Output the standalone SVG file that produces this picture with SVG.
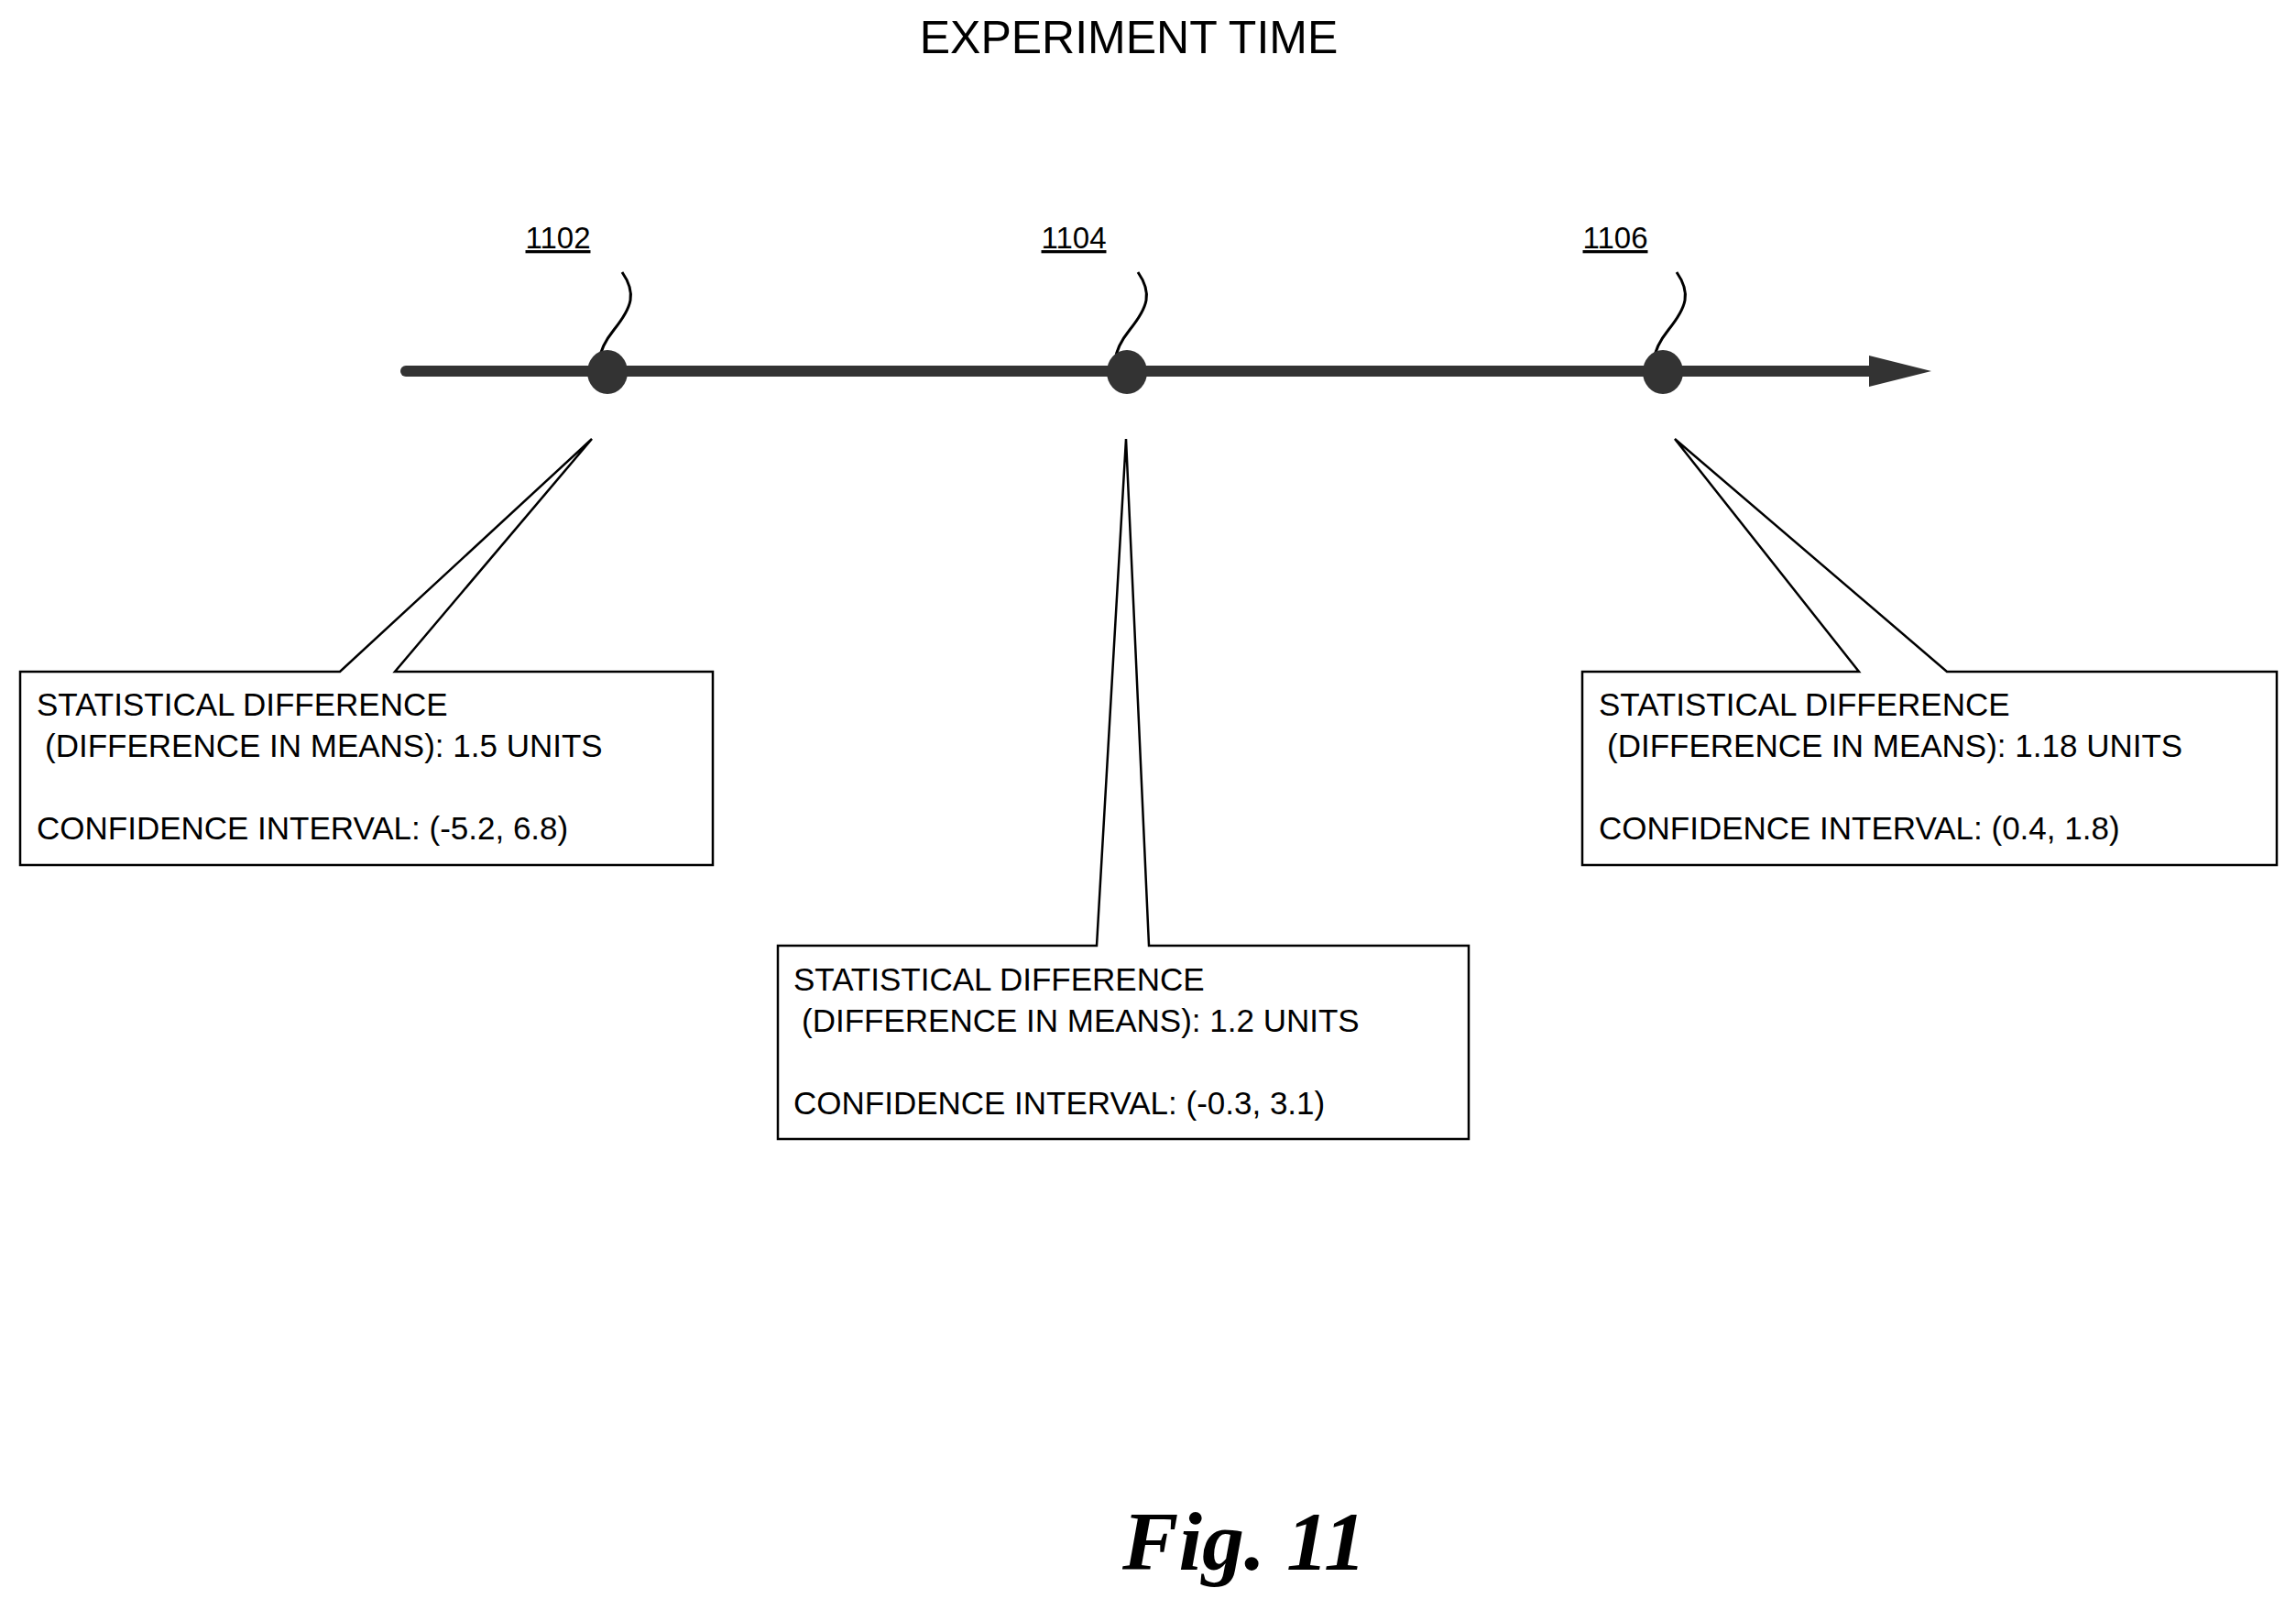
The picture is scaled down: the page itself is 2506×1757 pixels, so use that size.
<svg xmlns="http://www.w3.org/2000/svg" width="2506" height="1757" viewBox="0 0 2506 1757">
<style>
.t{font-family:"Liberation Sans",Arial,sans-serif;font-size:35px;fill:#000}
.ref{font-family:"Liberation Sans",Arial,sans-serif;font-size:33px;fill:#000;text-decoration:underline}
.box{fill:#fff;stroke:#000;stroke-width:2.5}
.sq{fill:none;stroke:#000;stroke-width:3}
</style>
<rect width="2506" height="1757" fill="#fff"/>
<text x="1232" y="58" text-anchor="middle" style="font-family:'Liberation Sans',Arial,sans-serif;font-size:50px">EXPERIMENT TIME</text>
<g id="axis">
<line x1="443" y1="405" x2="2050" y2="405" stroke="#333" stroke-width="12" stroke-linecap="round"/>
<polygon points="2040,388 2108,405 2040,422" fill="#333"/>
</g>
<g id="n1102">
<text class="ref" x="609" y="271" text-anchor="middle">1102</text>
<path class="sq" d="M679,297 C695,320 690,335 670,360 C650,385 650,405 665,420"/>
<ellipse cx="663" cy="406" rx="22" ry="24" fill="#333"/>
<path class="box" d="M22,733 H371 L646,479 L431,733 H778 V944 H22 Z"/>
<text class="t" x="40" y="781">STATISTICAL DIFFERENCE</text>
<text class="t" x="49" y="826">(DIFFERENCE IN MEANS): 1.5 UNITS</text>
<text class="t" x="40" y="916">CONFIDENCE INTERVAL:  (-5.2, 6.8)</text>
</g>
<g id="n1104">
<text class="ref" x="1172" y="271" text-anchor="middle">1104</text>
<path class="sq" d="M1242,297 C1258,320 1253,335 1233,360 C1213,385 1213,405 1228,420"/>
<ellipse cx="1230" cy="406" rx="22" ry="24" fill="#333"/>
<path class="box" d="M849,1032 H1197 L1229,479 L1254,1032 H1603 V1243 H849 Z"/>
<text class="t" x="866" y="1081">STATISTICAL DIFFERENCE</text>
<text class="t" x="875" y="1126">(DIFFERENCE IN MEANS): 1.2 UNITS</text>
<text class="t" x="866" y="1216">CONFIDENCE INTERVAL:  (-0.3, 3.1)</text>
</g>
<g id="n1106">
<text class="ref" x="1763" y="271" text-anchor="middle">1106</text>
<path class="sq" d="M1830,297 C1846,320 1841,335 1821,360 C1801,385 1801,405 1816,420"/>
<ellipse cx="1815" cy="406" rx="22" ry="24" fill="#333"/>
<path class="box" d="M1727,733 H2029 L1828,479 L2125,733 H2485 V944 H1727 Z"/>
<text class="t" x="1745" y="781">STATISTICAL DIFFERENCE</text>
<text class="t" x="1754" y="826">(DIFFERENCE IN MEANS): 1.18 UNITS</text>
<text class="t" x="1745" y="916">CONFIDENCE INTERVAL:  (0.4, 1.8)</text>
</g>
<text x="1358" y="1713" text-anchor="middle" style="font-family:'Liberation Serif','Times New Roman',serif;font-size:92px;font-weight:bold;font-style:italic">Fig. 11</text>
</svg>
